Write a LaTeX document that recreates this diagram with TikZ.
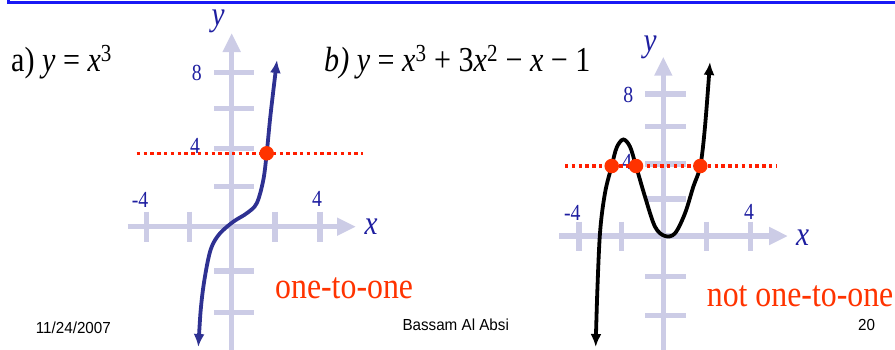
\documentclass[tikz,border=0pt]{standalone}
\usepackage{fontspec}
\setmainfont{Liberation Serif}[FakeStretch=0.86]
\newfontfamily\footfont{Liberation Sans}[FakeStretch=0.95]
\usetikzlibrary{arrows.meta}
\definecolor{axisc}{RGB}{204,204,230}
\definecolor{lblue}{RGB}{30,30,160}
\definecolor{curvea}{RGB}{46,49,146}
\definecolor{hred}{RGB}{255,30,0}
\definecolor{dotred}{RGB}{255,51,0}
\definecolor{topblue}{RGB}{25,25,245}
\tikzset{
  axis/.style={draw=axisc, line width=5.5pt, -{Triangle[length=19pt,width=17pt]}},
  tick/.style={draw=axisc, line width=5.5pt},
  lbl/.style={text=lblue, font=\fontsize{23}{25}\selectfont, inner sep=0pt},
  varlbl/.style={text=lblue, font=\fontsize{34}{36}\selectfont\itshape, inner sep=0pt},
  hline/.style={draw=hred, line width=3.3pt, dash pattern=on 3.4pt off 3.4pt},
  hitdot/.style={circle, fill=dotred, minimum size=14.5pt, inner sep=0pt},
  curve/.style={line width=3.8pt, {Latex[length=13pt,width=11pt]}-{Latex[length=13pt,width=11pt]}},
  title/.style={font=\fontsize{35}{37}\selectfont, inner sep=0pt, anchor=base west},
  verdict/.style={text=dotred, font=\fontsize{37}{39}\selectfont, inner sep=0pt, anchor=base west},
  foot/.style={font=\footfont\fontsize{16}{18}\selectfont, inner sep=0pt, anchor=base west}
}
\begin{document}
\begin{tikzpicture}[x=1pt,y=-1pt]
\useasboundingbox (0,0) rectangle (895,349);
\clip (0,0) rectangle (895,349);
% top frame
\draw[topblue, line width=3pt] (8.7,-5) -- (8.7,2.3) -- (900,2.3);

% ===== graph a =====
\coordinate (axl) at (127.7,226.7);
\coordinate (axr) at (356,226.7);
\coordinate (ayb) at (231.7,352);
\coordinate (ayt) at (231.7,33);
\draw[axis] (axl) -- (axr);
\draw[axis] (ayb) -- (ayt);
\foreach \tx in {146.7,189.5,275,320}{\draw[tick] (\tx,211.5) -- (\tx,242);}
\foreach \ty in {72.7,108.7,148.3,186.7,271,312.7}{\draw[tick] (214,\ty) -- (254,\ty);}
\node[lbl] (a8) at (196.7,72.7) {8};
\node[lbl] (a4) at (195,145.7) {4};
\node[lbl] (am4) at (140,200) {-4};
\node[lbl] (ap4) at (317,199) {4};
\node[varlbl] (ay) at (218,21) {y};
\node[varlbl] (ax) at (371,227) {x};
\coordinate (ahl) at (136.7,153.3);
\coordinate (ahr) at (363.3,153.3);
\draw[hline] (ahl) -- (ahr);
\draw[curve, curvea] plot[smooth, tension=0.55] coordinates {
 (198.3,347) (201.7,300) (206.7,266.7) (211.7,246.7) (220,233.3) (233.3,221.7)
 (246.7,213.3) (256.7,203.3) (263.3,180) (266.7,153.3) (270.5,115) (277,60)};
\node[hitdot] (ad) at (266.7,153.3) {};
\node[title] (ta) at (11,71) {a) \textit{y} = \textit{x}\textsuperscript{3}};
\node[verdict] (va) at (275,298) {one-to-one};

% ===== graph b =====
\coordinate (bxl) at (559,236);
\coordinate (bxr) at (788,236);
\coordinate (byb) at (663.3,352);
\coordinate (byt) at (663.3,56.7);
\draw[axis] (bxl) -- (bxr);
\draw[axis] (byb) -- (byt);
\foreach \tx in {579,621.7,706.7,750.7}{\draw[tick] (\tx,221.7) -- (\tx,250.5);}
\foreach \ty in {94,126.7,164,199,276.7,315.7}{\draw[tick] (645,\ty) -- (685.7,\ty);}
\node[lbl] (b8) at (628.3,95) {8};
\node[lbl] (b4) at (627,161.7) {4};
\node[lbl] (bm4) at (572.3,212.7) {-4};
\node[lbl] (bp4) at (749,212) {4};
\node[varlbl] (by) at (650,47) {y};
\node[varlbl] (bx) at (802.7,238) {x};
\coordinate (bhl) at (565,166);
\coordinate (bhr) at (776.7,166);
\draw[hline] (bhl) -- (bhr);
\draw[curve, black] plot[smooth, tension=0.55] coordinates {
 (595.7,347) (597,300) (600,233) (605,193) (611.7,166) (616.7,147.5) (623.3,139.5)
 (630,146.7) (636,166) (645,196.7) (655,226.7) (665,236) (675,233.3) (685,213.3)
 (693.3,186.7) (700.3,166) (705,126.7) (710,62)};
\node[hitdot] (bd1) at (611.7,166) {};
\node[hitdot] (bd2) at (636,166) {};
\node[hitdot] (bd3) at (700.3,166) {};
\node[title] (tb) at (324,71) {\textit{b) y} = \textit{x}\textsuperscript{3} + 3\textit{x}\textsuperscript{2} − \textit{x} − 1};
\node[verdict] (vb) at (706.7,306.7) {not one-to-one};

% footer
\node[foot] (date) at (35.7,333) {11/24/2007};
\node[foot] (auth) at (402.3,330.5) {Bassam Al Absi};
\node[foot] (page) at (858,330.5) {20};
\end{tikzpicture}
\end{document}
